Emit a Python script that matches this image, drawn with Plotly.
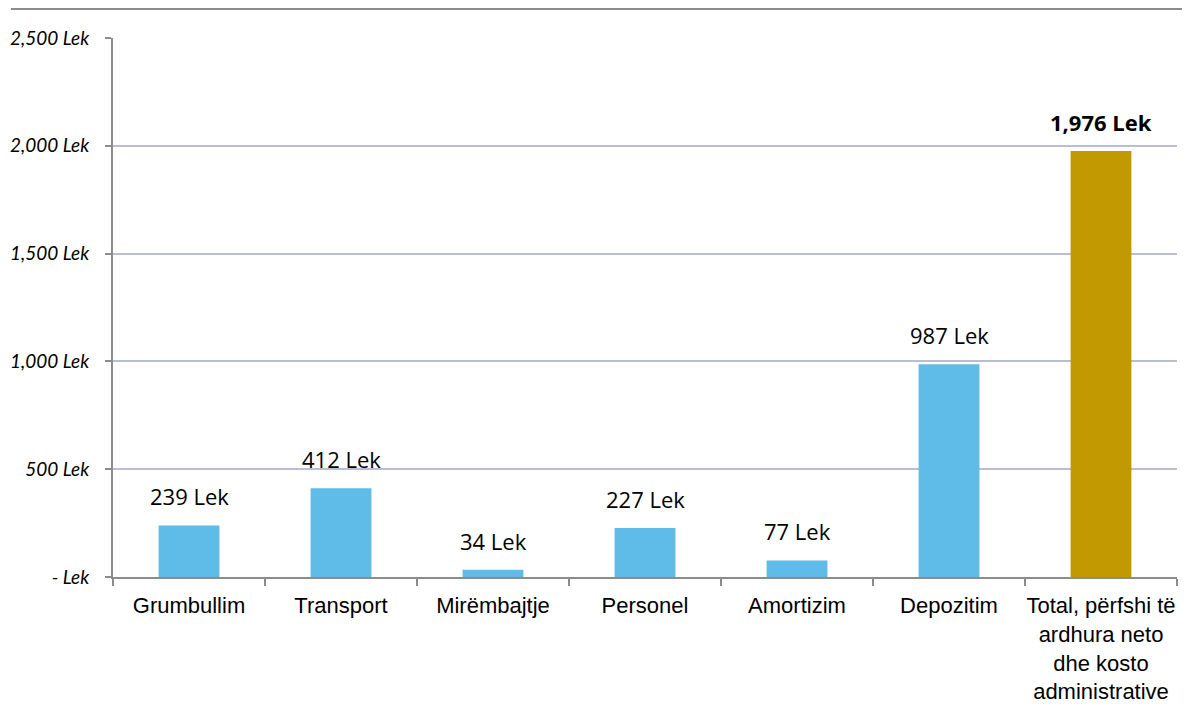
import plotly.graph_objects as go

categories = ["Grumbullim", "Transport", "Mirëmbajtje", "Personel", "Amortizim", "Depozitim",
              "Total, përfshi të<br>ardhura neto<br>dhe kosto<br>administrative"]
values = [239, 412, 34, 227, 77, 987, 1976]
labels = ["239 Lek", "412 Lek", "34 Lek", "227 Lek", "77 Lek", "987 Lek", "1,976 Lek"]
colors = ["#5FBCE8"] * 6 + ["#C29A00"]
ytick_vals = [0, 500, 1000, 1500, 2000, 2500]
ytick_text = ["- Lek", "500 Lek", "1,000 Lek", "1,500 Lek", "2,000 Lek", "2,500 Lek"]

fig = go.Figure()
fig.add_trace(go.Bar(x=categories, y=values, marker=dict(color=colors, line=dict(width=0)),
                     hoverinfo="skip"))

for i, (c, v, t) in enumerate(zip(categories, values, labels)):
    bold = i == len(categories) - 1
    fig.add_annotation(x=c, y=v, text=f"<b>{t}</b>" if bold else t, showarrow=False,
                       yanchor="bottom", yshift=12,
                       font=dict(family="Open Sans, Lato, sans-serif", size=22, color="#000000"))

fig.update_layout(
    width=1190, height=724,
    margin=dict(l=105, r=21, t=30, b=155),
    plot_bgcolor="white", paper_bgcolor="white",
    bargap=0.6, showlegend=False,
    xaxis=dict(
        showline=True, linecolor="#8C8C8C", linewidth=2,
        ticks="outside", tickson="boundaries", ticklen=7, tickcolor="#8C8C8C", tickwidth=2,
        tickangle=0, ticklabelstandoff=8,
        tickfont=dict(family="Liberation Sans, Arial", size=22, color="#000"),
        showgrid=False, automargin=False,
    ),
    yaxis=dict(
        range=[0, 2500], tickvals=ytick_vals, ticktext=ytick_text,
        showline=True, linecolor="#8C8C8C", linewidth=2,
        ticks="outside", ticklen=6, tickcolor="#8C8C8C", tickwidth=2,
        showgrid=True, gridcolor="#B9BED2", gridwidth=1.5, zeroline=False,
        tickfont=dict(family="Lato, Open Sans, sans-serif", size=19, color="#000", style="italic"),
        automargin=False, ticklabelstandoff=12,
    ),
    shapes=[dict(type="line", xref="paper", yref="paper", x0=-0.096, x1=1.013, y0=1.054, y1=1.054,
                 line=dict(color="#8C8C8C", width=2))],
)

fig.write_html("out.html")
